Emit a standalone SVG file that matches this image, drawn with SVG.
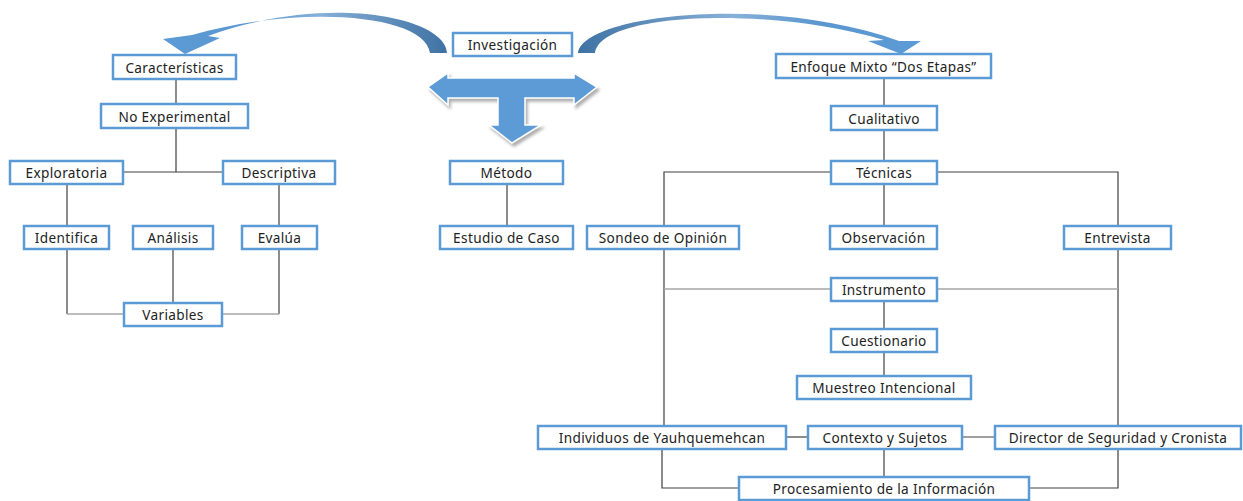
<svg xmlns="http://www.w3.org/2000/svg" width="1243" height="501" viewBox="0 0 1243 501">
<defs>
<style>
.box{fill:#ffffff;stroke:#5B9BD5;stroke-width:2.5}
.lbl{font-family:"Noto Sans","DejaVu Sans",sans-serif;font-size:13.6px;letter-spacing:0.35px;fill:#222;text-anchor:middle;dominant-baseline:central}
.ln{fill:none;stroke:#404040;stroke-width:1.2}
.lg{fill:none;stroke:#a6a6a6;stroke-width:1.6}
.arw{fill:#5B9BD5}
</style>
<linearGradient id="gL" x1="1" y1="0" x2="0" y2="0">
<stop offset="0" stop-color="#3f72a3"/>
<stop offset="0.45" stop-color="#86b0d8"/>
<stop offset="0.7" stop-color="#5b96cf"/>
<stop offset="1" stop-color="#5B9BD5"/>
</linearGradient>
<linearGradient id="gR" x1="0" y1="0" x2="1" y2="0">
<stop offset="0" stop-color="#3f72a3"/>
<stop offset="0.45" stop-color="#86b0d8"/>
<stop offset="0.7" stop-color="#5b96cf"/>
<stop offset="1" stop-color="#5B9BD5"/>
</linearGradient>
<filter id="sh" x="-20%" y="-20%" width="140%" height="140%">
<feDropShadow dx="2" dy="3" stdDeviation="1.5" flood-color="#9a9a9a" flood-opacity="0.8"/>
</filter>
</defs>

<g id="connectors">
<path class="ln" d="M176 79V104"/>
<path class="ln" d="M176 128V172M123 172H222"/>
<path class="ln" d="M67 184V226"/>
<path class="ln" d="M279 184V226"/>
<path class="ln" d="M67 249V314"/>
<path class="lg" d="M67 314H124"/>
<path class="ln" d="M173 249V303"/>
<path class="ln" d="M279 249V314"/>
<path class="lg" d="M279 314H222"/>
<path class="ln" d="M507 184V226"/>
<path class="ln" d="M884 78V106"/>
<path class="ln" d="M884 130V160"/>
<path class="ln" d="M831 172H664V226"/>
<path class="ln" d="M937 172H1118V226"/>
<path class="ln" d="M884 184V226"/>
<path class="ln" d="M664 249V426"/>
<path class="ln" d="M1118 249V426"/>
<path class="lg" d="M664 289H831"/>
<path class="lg" d="M937 289H1118"/>
<path class="ln" d="M884 301V329"/>
<path class="ln" d="M884 352V376"/>
<path class="ln" d="M786 437H808"/>
<path class="ln" d="M962 437H995"/>
<path class="ln" d="M884 449V477"/>
<path class="ln" d="M662 449V488H739"/>
<path class="ln" d="M1118 449V488H1029"/>
</g>

<g id="arrow-left">
<path fill="url(#gL)" d="M447 53C446 18 330 -8 208 36L220 38L185 54L163 39L192 35C300 4 425 14 430 53Z"/>
</g>
<g id="arrow-right">
<path fill="url(#gR)" d="M578 53C583 14 770 -6 899 41L921 41L901 54L868 41L884 40C770 6 600 12 595 53Z"/>
</g>
<g id="arrow-t" filter="url(#sh)">
<path class="arw" stroke="#ffffff" stroke-width="1.5" d="M428 87L448 73V78H574V73L597 87L574 105V98H525V125H541L512 143L489 125H498V98H448V105Z"/>
</g>

<g id="n-investigacion"><rect class="box" x="453" y="33" width="119" height="23"/><text class="lbl" x="512.5" y="44.5">Investigación</text></g>
<g id="n-caracteristicas"><rect class="box" x="113" y="55" width="123" height="24"/><text class="lbl" x="174.5" y="67">Características</text></g>
<g id="n-noexperimental"><rect class="box" x="101" y="104" width="147" height="24"/><text class="lbl" x="174.5" y="116">No Experimental</text></g>
<g id="n-exploratoria"><rect class="box" x="10" y="161" width="113" height="23"/><text class="lbl" x="66.5" y="172.5">Exploratoria</text></g>
<g id="n-descriptiva"><rect class="box" x="223" y="161" width="112" height="23"/><text class="lbl" x="279" y="172.5">Descriptiva</text></g>
<g id="n-identifica"><rect class="box" x="24" y="226" width="85" height="23"/><text class="lbl" x="66.5" y="237.5">Identifica</text></g>
<g id="n-analisis"><rect class="box" x="133" y="226" width="80" height="23"/><text class="lbl" x="173" y="237.5">Análisis</text></g>
<g id="n-evalua"><rect class="box" x="242" y="226" width="75" height="23"/><text class="lbl" x="279.5" y="237.5">Evalúa</text></g>
<g id="n-variables"><rect class="box" x="124" y="303" width="98" height="23"/><text class="lbl" x="173" y="314.5">Variables</text></g>
<g id="n-metodo"><rect class="box" x="450" y="161" width="113" height="23"/><text class="lbl" x="506.5" y="172.5">Método</text></g>
<g id="n-estudio"><rect class="box" x="440" y="226" width="133" height="23"/><text class="lbl" x="506.5" y="237.5">Estudio de Caso</text></g>
<g id="n-enfoque"><rect class="box" x="776" y="54" width="215" height="24"/><text class="lbl" x="883.5" y="66">Enfoque Mixto “Dos Etapas”</text></g>
<g id="n-cualitativo"><rect class="box" x="831" y="106" width="106" height="24"/><text class="lbl" x="884" y="118">Cualitativo</text></g>
<g id="n-tecnicas"><rect class="box" x="831" y="161" width="106" height="23"/><text class="lbl" x="884" y="172.5">Técnicas</text></g>
<g id="n-sondeo"><rect class="box" x="587" y="226" width="152" height="23"/><text class="lbl" x="663" y="237.5">Sondeo de Opinión</text></g>
<g id="n-observacion"><rect class="box" x="830" y="226" width="107" height="23"/><text class="lbl" x="883.5" y="237.5">Observación</text></g>
<g id="n-entrevista"><rect class="box" x="1064" y="226" width="107" height="23"/><text class="lbl" x="1117.5" y="237.5">Entrevista</text></g>
<g id="n-instrumento"><rect class="box" x="831" y="278" width="106" height="23"/><text class="lbl" x="884" y="289.5">Instrumento</text></g>
<g id="n-cuestionario"><rect class="box" x="831" y="329" width="106" height="23"/><text class="lbl" x="884" y="340.5">Cuestionario</text></g>
<g id="n-muestreo"><rect class="box" x="797" y="376" width="174" height="23"/><text class="lbl" x="884" y="387.5">Muestreo Intencional</text></g>
<g id="n-individuos"><rect class="box" x="538" y="426" width="248" height="23"/><text class="lbl" x="662" y="437.5">Individuos de Yauhquemehcan</text></g>
<g id="n-contexto"><rect class="box" x="808" y="426" width="154" height="23"/><text class="lbl" x="885" y="437.5">Contexto y Sujetos</text></g>
<g id="n-director"><rect class="box" x="995" y="426" width="246" height="23"/><text class="lbl" x="1118" y="437.5">Director de Seguridad y Cronista</text></g>
<g id="n-procesamiento"><rect class="box" x="739" y="477" width="290" height="23"/><text class="lbl" x="884" y="488.5">Procesamiento de la Información</text></g>
</svg>
